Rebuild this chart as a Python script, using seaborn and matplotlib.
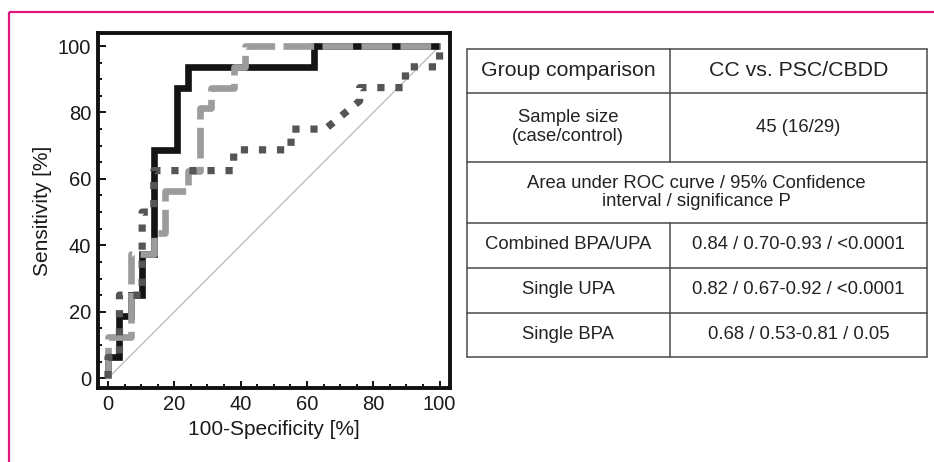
import matplotlib
matplotlib.use('Agg')
import matplotlib.pyplot as plt
from matplotlib.ticker import MultipleLocator
import seaborn as sns

# ROC curves (x = 100-specificity, y = sensitivity, in %)
fpr_combined = [0, 0, 3.45, 3.45, 6.9, 6.9, 10.3, 10.3, 13.8, 13.8, 20.7, 20.7, 24.1, 24.1, 62.1, 62.1, 100]
tpr_combined = [0, 6.25, 6.25, 18.75, 18.75, 25, 25, 37.5, 37.5, 68.75, 68.75, 87.5, 87.5, 93.75, 93.75, 100, 100]

fpr_upa = [0, 0, 6.9, 6.9, 13.8, 13.8, 17.2, 17.2, 24.1, 24.1, 27.6, 27.6, 31.0, 31.0, 37.9, 37.9, 41.4, 41.4, 100]
tpr_upa = [0, 12.5, 12.5, 37.5, 37.5, 43.75, 43.75, 56.25, 56.25, 62.5, 62.5, 81.25, 81.25, 87.5, 87.5, 93.75, 93.75, 100, 100]

fpr_bpa = [0, 0, 3.45, 3.45, 10.3, 10.3, 13.8, 13.8, 37.9, 37.9, 55.2, 55.2, 65.5, 75.9, 75.9, 89.7, 89.7, 100, 100]
tpr_bpa = [0, 6.25, 6.25, 25, 25, 50, 50, 62.5, 62.5, 68.75, 68.75, 75, 75, 83.5, 87.5, 87.5, 93.75, 93.75, 100]

chance_line = [0, 100]

# table content
header = ["Group comparison", "CC vs. PSC/CBDD"]
sample_row = ["Sample size\n(case/control)", "45 (16/29)"]
auc_caption = "Area under ROC curve / 95% Confidence\ninterval / significance P"
row_names = ["Combined BPA/UPA", "Single UPA", "Single BPA"]
row_values = ["0.84 / 0.70-0.93 / <0.0001", "0.82 / 0.67-0.92 / <0.0001", "0.68 / 0.53-0.81 / 0.05"]

sns.set_theme(style='ticks')
plt.rcParams['font.family'] = ['Liberation Sans', 'DejaVu Sans']

fig = plt.figure(figsize=(9.34, 4.62), dpi=100)
ax = fig.add_axes([0.105, 0.160, 0.377, 0.769])

# diagonal reference
sns.lineplot(x=chance_line, y=chance_line, ax=ax, color='#b0b0b0', linewidth=0.8,
             sort=False, estimator=None)
sns.lineplot(x=fpr_combined, y=tpr_combined, ax=ax, color='#141414', linewidth=4.8,
             sort=False, estimator=None, solid_joinstyle='miter', solid_capstyle='butt')
sns.lineplot(x=fpr_upa, y=tpr_upa, ax=ax, color='#9c9c9c', linewidth=4.8,
             sort=False, estimator=None, linestyle=(0, (4.6, 1.25)), dash_capstyle='butt')
sns.lineplot(x=fpr_bpa, y=tpr_bpa, ax=ax, color='#555555', linewidth=5.2,
             sort=False, estimator=None, linestyle=(0, (1, 1.5)), dash_capstyle='butt')

ax.set_xlim(-3, 103.2)
ax.set_ylim(-3, 104)
ax.xaxis.set_major_locator(MultipleLocator(20))
ax.yaxis.set_major_locator(MultipleLocator(20))
ax.xaxis.set_minor_locator(MultipleLocator(5))
ax.yaxis.set_minor_locator(MultipleLocator(5))
ax.tick_params(which='both', direction='in', color='#111111', width=1.4,
               labelsize=14.5, labelcolor='#1a1a1a', top=False, right=False)
ax.tick_params(which='major', length=5.4)
ax.tick_params(which='minor', length=2.9)
ax.tick_params(axis='x', pad=5)
ax.tick_params(axis='y', pad=5)
for sp in ax.spines.values():
    sp.set_linewidth(2.8)
    sp.set_color('#111111')
ax.set_xlabel("100-Specificity [%]", fontsize=15, color='#1a1a1a', labelpad=4)
ax.set_ylabel("Sensitivity [%]", fontsize=15, color='#1a1a1a', labelpad=4)

# overlay in pixel coordinates for the table and the page frame
ov = fig.add_axes([0, 0, 1, 1], zorder=-1)
ov.set_xlim(0, 934)
ov.set_ylim(462, 0)
ov.axis('off')

pink = '#e0187c'
ov.plot([9, 934], [12, 12], color=pink, linewidth=1.6, solid_capstyle='butt')
ov.plot([9, 9], [12, 462], color=pink, linewidth=1.6, solid_capstyle='butt')

left, mid, right = 466.7, 670, 926.7
rows_y = [49.3, 92.7, 161.7, 223.3, 268.3, 313.3, 357.3]
lc = '#4a4a4a'
for y in rows_y:
    ov.plot([left, right], [y, y], color=lc, linewidth=1.1)
ov.plot([left, left], [rows_y[0], rows_y[-1]], color=lc, linewidth=1.1)
ov.plot([right, right], [rows_y[0], rows_y[-1]], color=lc, linewidth=1.1)
ov.plot([mid, mid], [rows_y[0], rows_y[2]], color=lc, linewidth=1.1)
ov.plot([mid, mid], [rows_y[3], rows_y[-1]], color=lc, linewidth=1.1)

c1 = (left + mid) / 2
c2 = (mid + right) / 2
tc = '#222222'
ov.text(c1, (rows_y[0] + rows_y[1]) / 2, header[0], ha='center', va='center', fontsize=15.3, color=tc)
ov.text(c2, (rows_y[0] + rows_y[1]) / 2, header[1], ha='center', va='center', fontsize=15.3, color=tc)
ov.text(c1, (rows_y[1] + rows_y[2]) / 2, sample_row[0], ha='center', va='center', fontsize=13.3,
        color=tc, linespacing=1.15)
ov.text(c2, (rows_y[1] + rows_y[2]) / 2, sample_row[1], ha='center', va='center', fontsize=13.3, color=tc)
ov.text((left + right) / 2, (rows_y[2] + rows_y[3]) / 2, auc_caption, ha='center', va='center',
        fontsize=13.3, color=tc, linespacing=1.15)
for i, (name, val) in enumerate(zip(row_names, row_values)):
    yc = (rows_y[3 + i] + rows_y[4 + i]) / 2 - 1
    ov.text(c1, yc, name, ha='center', va='center', fontsize=13.3, color=tc)
    ov.text(c2, yc, val, ha='center', va='center', fontsize=13.3, color=tc)

fig.savefig('out.png', dpi=100)
plt.close(fig)
